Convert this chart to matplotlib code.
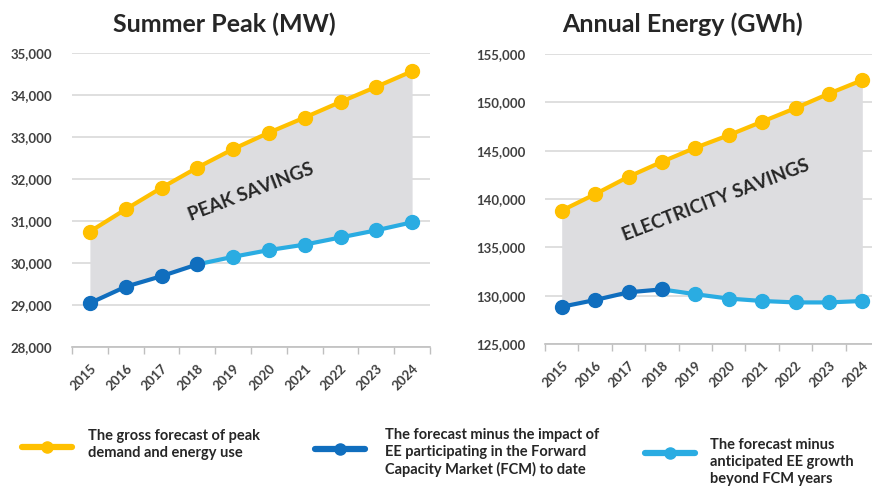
import numpy as np
import matplotlib
matplotlib.use("Agg")
import matplotlib.pyplot as plt
from matplotlib.lines import Line2D
from matplotlib.ticker import FuncFormatter

plt.rcParams['font.family'] = ['Lato', 'DejaVu Sans']

# Data
years = ['2015', '2016', '2017', '2018', '2019', '2020', '2021', '2022', '2023', '2024']

peak_gross = [30750, 31280, 31790, 32270, 32710, 33100, 33460, 33830, 34190, 34560]
peak_fcm = [29050, 29440, 29690, 29970]                 # 2015-2018
peak_beyond = [30150, 30310, 30440, 30610, 30780, 30970]  # 2019-2024

energy_gross = [138800, 140500, 142300, 143850, 145300, 146600, 148000, 149400, 150900, 152300]
energy_fcm = [128850, 129550, 130350, 130650]
energy_beyond = [130150, 129700, 129450, 129300, 129300, 129450]

legend_labels = [
    'The gross forecast of peak\ndemand and energy use',
    'The forecast minus the impact of\nEE participating in the Forward\nCapacity Market (FCM) to date',
    'The forecast minus\nanticipated EE growth\nbeyond FCM years',
]

YELLOW = '#FFC000'
DARK_BLUE = '#106EBE'
LIGHT_BLUE = '#2AACE2'
FILL = '#DDDDE0'
GRID = '#D9D9D9'
TXT = '#404040'
DARK = '#262626'

W, H = 872, 491
fig = plt.figure(figsize=(W / 100, H / 100), dpi=100)


def px_axes(x0, x1, ytop, ybot):
    return fig.add_axes([x0 / W, 1 - ybot / H, (x1 - x0) / W, (ybot - ytop) / H])


def draw_panel(ax, gross, fcm, beyond, ylim, step, label, label_xy):
    x = np.arange(len(years))
    n_fcm = len(fcm)
    lower = np.array(fcm + beyond)
    ax.fill_between(x, lower, gross, color=FILL, lw=0, zorder=1)
    ax.plot(x, gross, color=YELLOW, lw=3, marker='o', ms=10, zorder=4)
    ax.plot(x[n_fcm - 1:], [fcm[-1]] + beyond, color=LIGHT_BLUE, lw=3,
            marker='o', ms=10, zorder=3)
    ax.plot(x[:n_fcm], fcm, color=DARK_BLUE, lw=3, marker='o', ms=10, zorder=5)

    ax.set_xlim(-0.5, len(years) - 0.5)
    ax.set_ylim(*ylim)
    ax.set_yticks(np.arange(ylim[0], ylim[1] + 1, step))
    ax.yaxis.set_major_formatter(FuncFormatter(lambda v, p: f'{int(v):,}'))
    ax.grid(axis='y', color=GRID, lw=1.2, zorder=0)
    ax.set_axisbelow(True)

    ax.set_xticks(x)
    ax.set_xticklabels(years, rotation=45, ha='right', rotation_mode='anchor')
    ax.set_xticks(np.arange(-0.5, len(years), 1), minor=True)
    ax.tick_params(axis='x', which='major', length=0, pad=11, labelsize=9.5, labelcolor=TXT)
    ax.tick_params(axis='x', which='minor', length=5, color='#BFBFBF', width=1)
    ax.tick_params(axis='y', length=0, pad=14, labelsize=9.5, labelcolor=TXT)
    for lab in ax.get_xticklabels() + ax.get_yticklabels():
        lab.set_fontweight('bold')

    for s in ['top', 'right', 'left']:
        ax.spines[s].set_visible(False)
    ax.spines['bottom'].set_color('#BFBFBF')
    ax.spines['bottom'].set_linewidth(1.2)

    ax.text(label_xy[0], label_xy[1], label, rotation=21, ha='center', va='center',
            fontsize=13.5, fontweight='bold', color=DARK, zorder=6)


ax1 = px_axes(72, 430, 52.7, 347.3)
draw_panel(ax1, peak_gross, peak_fcm, peak_beyond, (28000, 35000), 1000,
           'PEAK SAVINGS', (4.5, 31700))

ax2 = px_axes(545, 879, 54, 344)
draw_panel(ax2, energy_gross, energy_fcm, energy_beyond, (125000, 155000), 5000,
           'ELECTRICITY SAVINGS', (4.6, 139900))

# Panel titles
fig.text(224 / W, 1 - 24 / H, 'Summer Peak (MW)', ha='center', va='center',
         fontsize=18, fontweight='bold', color=DARK)
fig.text(682 / W, 1 - 24 / H, 'Annual Energy (GWh)', ha='center', va='center',
         fontsize=18, fontweight='bold', color=DARK)

# Legend along the bottom, drawn by hand
legend_pos = [  # handle x0, x1, handle y, text x, text top y
    (22, 72, 447, 88, 429),
    (315, 365, 449, 385, 428),
    (645, 695, 453, 710, 438),
]
for color, text, (hx0, hx1, hy, tx, ty) in zip([YELLOW, DARK_BLUE, LIGHT_BLUE],
                                                legend_labels, legend_pos):
    fig.add_artist(Line2D([hx0 / W, hx1 / W], [1 - hy / H, 1 - hy / H],
                          transform=fig.transFigure, color=color, lw=4.5,
                          solid_capstyle='round'))
    fig.add_artist(Line2D([(hx0 + hx1) / 2 / W], [1 - hy / H],
                          transform=fig.transFigure, color=color, marker='o', ms=8))
    fig.text(tx / W, 1 - ty / H, text, ha='left', va='top', fontsize=10.5,
             fontweight='bold', color=DARK, linespacing=1.25)

fig.savefig('out.png', dpi=100)
